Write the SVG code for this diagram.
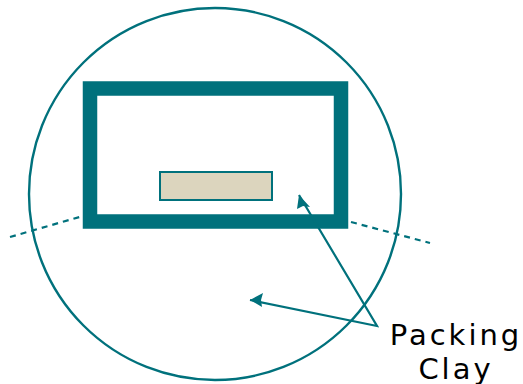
<svg xmlns="http://www.w3.org/2000/svg" width="523" height="384" viewBox="0 0 523 384">
<defs>
<style>
.teal{stroke:#00717C;fill:none}
.dash{stroke:#00717C;stroke-width:2.2;stroke-dasharray:6 5;fill:none}
.arr{stroke:#00717C;stroke-width:2.2;fill:none}
.lbl{font-family:"DejaVu Sans","Liberation Sans",sans-serif;font-size:29px;letter-spacing:3px;fill:#000}
</style>
</defs>
<g id="circle"><circle cx="215" cy="194" r="186" class="teal" stroke-width="2.4"/></g>
<g id="box"><rect x="90" y="88.5" width="251" height="133" class="teal" stroke-width="14.5"/></g>
<g id="block"><rect x="160" y="172" width="112" height="28" fill="#DCD5BE" stroke="#00717C" stroke-width="2"/></g>
<g id="connectors">
<line x1="10" y1="237" x2="83" y2="216" class="dash"/>
<line x1="351" y1="222" x2="430" y2="243" class="dash"/>
<polyline points="299,195 377,326 250,300" class="arr"/>
<path d="M299,195 L297,209 L303,206 L310,207 Z" fill="#00717C"/>
<path d="M250,300 L263,293 L261,300 L262,307 Z" fill="#00717C"/>
</g>
<g id="label">
<text class="lbl" x="456" y="345" text-anchor="middle">Packing</text>
<text class="lbl" x="456" y="379" text-anchor="middle">Clay</text>
</g>
</svg>
